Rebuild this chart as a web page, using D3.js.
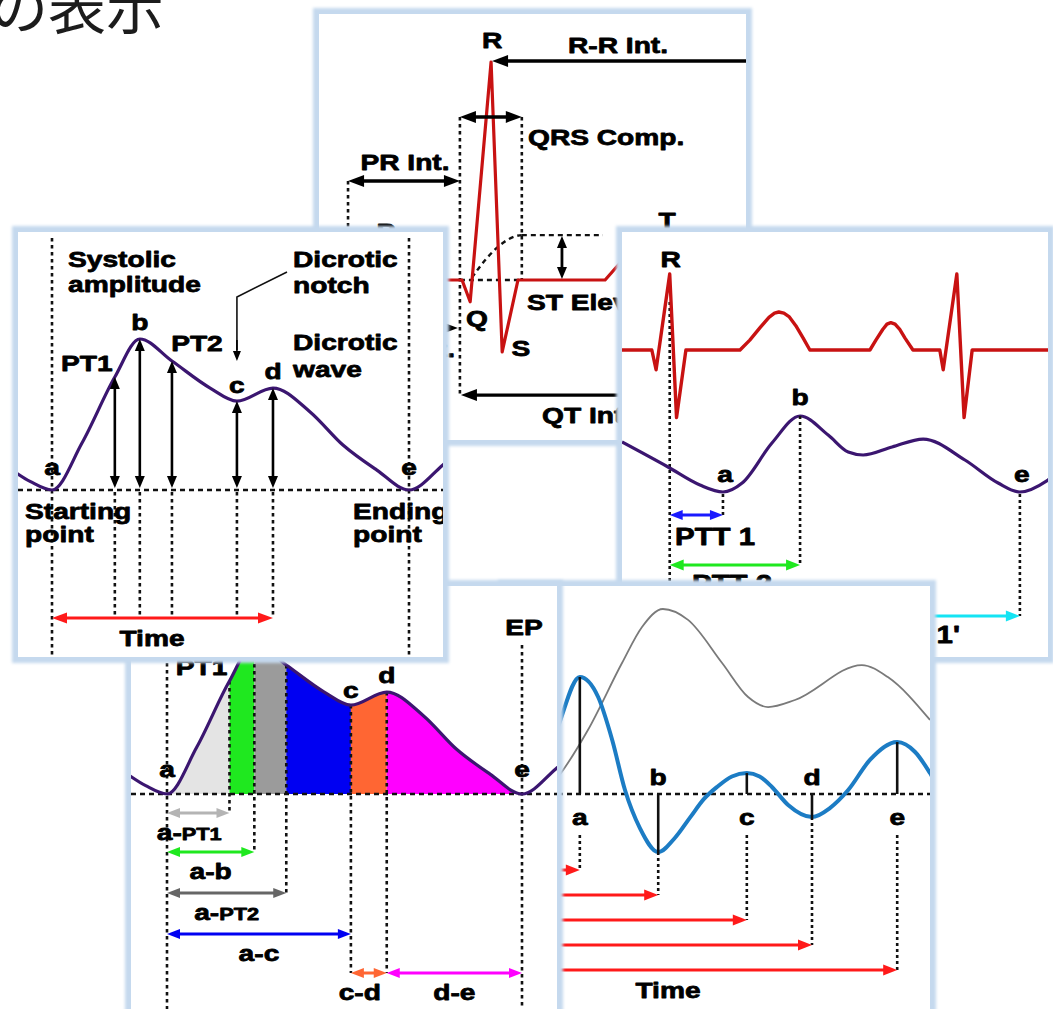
<!DOCTYPE html>
<html>
<head>
<meta charset="utf-8">
<script src="https://cdn.jsdelivr.net/npm/d3@7"></script>
<style>
  body { margin: 0; background: #fff; }
  svg { display: block; }
</style>
</head>
<body>
<script>
// ---------------- data ----------------
// ECG overview trace (time in ms, amplitude in mV)
const ecgTopTime = [0, 91, 119, 159, 199, 237, 335, 354, 403, 429, 466, 670, 705, 752, 799, 845, 892, 927, 1000];
const ecgTopAmp  = [0, 0, 0.05, 0.10, 0.05, 0, 0, -0.10, 1.0, -0.33, 0, 0, 0.078, 0.19, 0.22, 0.19, 0.08, 0, 0];
// ECG interval landmarks (ms)
const ecgLandmarkNames = ['prStart', 'qrsStart', 'qrsEnd', 'stMark', 'stEnd', 'rPeak'];
const ecgLandmarkTime  = [68, 330, 475, 569, 665, 403];

// ECG + PPG for pulse transit time (ms / mV / normalised PPG)
const ecgPttTime = [0, 70, 80, 112, 128, 150,
  277, 300, 325, 345, 358, 368, 380, 392, 408, 425, 441,
  582, 596, 612, 622, 631, 641, 652, 664, 683,
  746, 754, 786, 803, 822, 1000];
const ecgPttAmp  = [0, 0, -0.26, 1.0, -0.89, 0,
  0, 0.13, 0.30, 0.43, 0.485, 0.5, 0.485, 0.44, 0.32, 0.16, 0,
  0, 0.13, 0.27, 0.34, 0.36, 0.34, 0.27, 0.16, 0,
  0, -0.26, 1.0, -0.89, 0, 0];
const pttPpgTime = [0, 108, 183, 237, 282, 352, 418, 484, 531, 566, 634, 707, 805, 883, 934, 1000, 1030];
const pttPpgAmp  = [0.658, 0.329, 0.092, 0, 0.118, 0.645, 1.0, 0.75, 0.526, 0.487, 0.592, 0.697, 0.421, 0.118, 0, 0.158, 0.29];
const pttMarkNames = ['R', 'a', 'b', 'e'];
const pttMarkTime  = [112, 237, 418, 934];

// single PPG pulse, time normalised a -> e, amplitude normalised to systolic peak
const ppgTime = [-0.12, -0.06, 0, 0.084, 0.176, 0.246, 0.336, 0.443, 0.518, 0.619, 0.723, 0.815, 0.91, 1.0, 1.095, 1.14];
const ppgAmp  = [0.145, 0.055, 0, 0.311, 0.748, 1.0, 0.854, 0.675, 0.589, 0.675, 0.517, 0.298, 0.132, 0, 0.166, 0.26];
const featureNames = ['PT1', 'b', 'PT2', 'c', 'd'];
const featureTime  = [0.176, 0.246, 0.336, 0.518, 0.619];

// area segments under the pulse
const segBounds = [0, 0.176, 0.246, 0.336, 0.518, 0.619, 1.0];
const segColors = ['#e4e4e4', '#1fe81f', '#9b9b9b', '#0000f2', '#ff6633', '#ff00ff'];
const spanNames = ['a-PT1', 'a-b', 'a-PT2', 'a-c', 'c-d', 'd-e'];
const spanFrom  = [0, 0, 0, 0, 0.518, 0.619];
const spanTo    = [0.176, 0.246, 0.336, 0.518, 0.619, 1.0];
const spanColors = ['#b4b4b4', '#1fe81f', '#666666', '#0000f2', '#ff6633', '#ff00ff'];

// pulse (grey) and its derivative (blue), time in ms
const rawTime = [0, 80, 127, 197, 277, 324, 373, 432, 512, 573, 620, 683, 840, 901, 1000];
const rawAmp  = [0.02, -0.032, 0.092, 0.346, 0.708, 0.903, 1.0, 0.941, 0.708, 0.524, 0.470, 0.508, 0.697, 0.632, 0.400];
const derivTime = [0, 61, 96, 124, 178, 221, 254, 284, 319, 362, 401, 437, 470, 500, 535, 570, 600, 629, 667, 723, 765, 808, 859, 923, 965, 1000, 1023];
const derivAmp  = [-0.18, -0.05, 0.29, 0.547, 1.0, 0.829, 0.462, 0.034, -0.291, -0.496, -0.376, -0.2, -0.04, 0.06, 0.15, 0.179, 0.15, 0.06, -0.094, -0.197, -0.120, 0.034, 0.291, 0.444, 0.359, 0.179, 0.034];
const derivNames = ['a', 'b', 'c', 'd', 'e'];
const derivTimeMarks = [178, 362, 570, 723, 923];

// ---------------- layout ----------------
const W = 1053, H = 1009;
const panelBoxes = {
  ecg:   { x: 319, y: 14,  w: 427, h: 426 },
  ptt:   { x: 622, y: 232, w: 426, h: 425 },
  deriv: { x: 504, y: 586, w: 426, h: 425 },
  area:  { x: 131, y: 586, w: 426, h: 425 },
  feat:  { x: 18,  y: 232, w: 425, h: 425 }
};

const xTop = d3.scaleLinear().domain([0, 1000]).range([319, 746]);
const yTop = d3.scaleLinear().domain([0, 1]).range([280, 62]);
const xPtt = d3.scaleLinear().domain([0, 1000]).range([622, 1048]);
const yPttEcg = d3.scaleLinear().domain([0, 1]).range([350, 274]);
const yPttPpg = d3.scaleLinear().domain([0, 1]).range([492, 416]);
const xFeat = d3.scaleLinear().domain([0, 1]).range([52, 409]);
const yFeat = d3.scaleLinear().domain([0, 1]).range([490, 339]);
const xArea = d3.scaleLinear().domain([0, 1]).range([167, 522]);
const yArea = d3.scaleLinear().domain([0, 1]).range([794, 643]);
const xDer = d3.scaleLinear().domain([0, 1000]).range([504, 930]);
const yDer = d3.scaleLinear().domain([0, 1]).range([794, 677]);
const yRaw = d3.scaleLinear().domain([0, 1]).range([794, 609]);

const FONT = '"Liberation Sans", Arial, Helvetica, sans-serif';
const PURPLE = '#3b1670', RED_ECG = '#c81212', RED = '#ff1a1a';

const svg = d3.select('body').append('svg').attr('width', W).attr('height', H);
const defs = svg.append('defs');
defs.append('filter').attr('id', 'edge').attr('x', '-5%').attr('y', '-5%').attr('width', '110%').attr('height', '110%')
  .append('feGaussianBlur').attr('stdDeviation', 1.4);

// ---------------- helpers ----------------
function panel(key) {
  const b = panelBoxes[key];
  const g = svg.append('g').attr('class', 'panel-' + key);
  g.append('rect').attr('x', b.x - 6).attr('y', b.y - 6).attr('width', b.w + 12).attr('height', b.h + 12)
    .attr('fill', '#c5d9ee').attr('filter', 'url(#edge)');
  g.append('rect').attr('x', b.x).attr('y', b.y).attr('width', b.w).attr('height', b.h).attr('fill', '#fff');
  defs.append('clipPath').attr('id', 'clip-' + key).append('rect')
    .attr('x', b.x).attr('y', b.y).attr('width', b.w).attr('height', b.h);
  return g.append('g').attr('clip-path', `url(#clip-${key})`);
}

function label(g, x, y, txt, opt = {}) {
  const color = opt.color || '#000';
  const t = g.append('text')
    .attr('transform', `translate(${x},${y}) scale(${opt.sx || 1.28},1)`)
    .attr('text-anchor', opt.anchor || 'middle')
    .attr('font-family', FONT).attr('font-weight', 'bold')
    .attr('font-size', opt.size || 22)
    .attr('fill', color).attr('stroke', color).attr('stroke-width', 0.75)
    .attr('stroke-linejoin', 'round');
  if (Array.isArray(txt)) txt.forEach(([s, size]) => t.append('tspan').attr('font-size', size).text(s));
  else t.text(txt);
  return t;
}

function dots(g, x1, y1, x2, y2, dash = '3.5,3.5', w = 2.6) {
  g.append('line').attr('x1', x1).attr('y1', y1).attr('x2', x2).attr('y2', y2)
    .attr('stroke', '#111').attr('stroke-width', w).attr('stroke-dasharray', dash);
}

function arrow(g, x1, y1, x2, y2, o = {}) {
  const color = o.color || '#000', w = o.width || 3, hl = o.head || 14, hw = o.headW || 11;
  const dx = x2 - x1, dy = y2 - y1, L = Math.hypot(dx, dy) || 1, ux = dx / L, uy = dy / L;
  const a = o.start ? hl * 0.7 : 0, b = o.end ? hl * 0.7 : 0;
  g.append('line').attr('x1', x1 + ux * a).attr('y1', y1 + uy * a)
    .attr('x2', x2 - ux * b).attr('y2', y2 - uy * b)
    .attr('stroke', color).attr('stroke-width', w);
  const head = (tx, ty, vx, vy) => {
    const bx = tx - vx * hl, by = ty - vy * hl, px = -vy * hw / 2, py = vx * hw / 2;
    g.append('path').attr('d', `M${tx},${ty}L${bx + px},${by + py}L${bx - px},${by - py}Z`).attr('fill', color);
  };
  if (o.end) head(x2, y2, ux, uy);
  if (o.start) head(x1, y1, -ux, -uy);
}

const zip = (a, b) => a.map((v, i) => [v, b[i]]);

// ---------------- heading ----------------
svg.append('text').attr('x', -10).attr('y', 29)
  .attr('font-family', '"Noto Sans CJK JP", sans-serif').attr('font-size', 58).attr('fill', '#1c1c1c')
  .text('の表示');

// ---------------- ECG intervals ----------------
{
  const g = panel('ecg');
  const lm = Object.fromEntries(ecgLandmarkNames.map((n, i) => [n, ecgLandmarkTime[i]]));
  const rowQRS = 0.748, rowPR = 0.454, rowST = 0.206, rowSeg = -0.22, rowQT = -0.528;

  dots(g, xTop(lm.prStart), yTop(rowPR), xTop(lm.prStart), 440);
  dots(g, xTop(lm.qrsStart), yTop(rowQRS), xTop(lm.qrsStart), yTop(rowQT));
  dots(g, xTop(lm.qrsEnd), yTop(rowQRS), xTop(lm.qrsEnd), yTop(0));
  dots(g, xTop(lm.qrsStart), yTop(0), xTop(lm.qrsEnd), yTop(0), '5,4', 2.4);
  g.append('path')
    .attr('d', `M${xTop(358)},${yTop(0.01)}Q${xTop(424)},${yTop(0.2)} ${xTop(lm.qrsEnd)},${yTop(rowST)}`)
    .attr('fill', 'none').attr('stroke', '#111').attr('stroke-width', 2.4).attr('stroke-dasharray', '5,4');
  dots(g, xTop(lm.qrsEnd), yTop(rowST), xTop(lm.stEnd), yTop(rowST), '5,4', 2.4);

  g.append('path').datum(zip(ecgTopTime, ecgTopAmp))
    .attr('d', d3.line().x(d => xTop(d[0])).y(d => yTop(d[1])))
    .attr('fill', 'none').attr('stroke', RED_ECG).attr('stroke-width', 3.2).attr('stroke-linejoin', 'round');

  const ah = { head: 16, headW: 12, width: 3.4 };
  arrow(g, xTop(lm.rPeak) + 1, yTop(1) - 1, 760, yTop(1) - 1, { ...ah, start: true });
  arrow(g, xTop(lm.qrsStart), yTop(rowQRS), xTop(lm.qrsEnd), yTop(rowQRS), { ...ah, start: true, end: true });
  arrow(g, xTop(lm.prStart), yTop(rowPR), xTop(lm.qrsStart), yTop(rowPR), { ...ah, start: true, end: true });
  arrow(g, xTop(lm.stMark), yTop(rowST) + 1, xTop(lm.stMark), yTop(0) - 1, { head: 12, headW: 10, width: 2.8, start: true, end: true });
  arrow(g, xTop(95), yTop(rowSeg), xTop(lm.qrsStart) - 2, yTop(rowSeg), { ...ah, start: true, end: true });
  arrow(g, xTop(lm.qrsStart) + 1, yTop(rowQT), 760, yTop(rowQT), { ...ah, start: true });

  label(g, xTop(lm.rPeak) + 1, 48, 'R');
  label(g, 618, 53, 'R-R Int.');
  label(g, 528, 145, 'QRS Comp.', { anchor: 'start' });
  label(g, 405, 170, 'PR Int.');
  label(g, 386, 239, 'P');
  label(g, 667, 228, 'T');
  label(g, 477, 326, 'Q');
  label(g, 521, 356, 'S');
  label(g, 527, 310, 'ST Elevation', { anchor: 'start' });
  label(g, 455, 357, 'Int.', { anchor: 'end' });
  label(g, 542, 423, 'QT Int.', { anchor: 'start' });
}

// ---------------- pulse transit time ----------------
{
  const g = panel('ptt');
  const m = Object.fromEntries(pttMarkNames.map((n, i) => [n, pttMarkTime[i]]));
  const rows = [515, 565, 616];

  dots(g, xPtt(m.R), yPttEcg(0.63), xPtt(m.R), 660, '3,3', 2.6);
  g.append('path').datum(zip(ecgPttTime, ecgPttAmp))
    .attr('d', d3.line().x(d => xPtt(d[0])).y(d => yPttEcg(d[1])))
    .attr('fill', 'none').attr('stroke', RED_ECG).attr('stroke-width', 3.4).attr('stroke-linejoin', 'round');
  g.append('path').datum(zip(pttPpgTime, pttPpgAmp))
    .attr('d', d3.line().curve(d3.curveMonotoneX).x(d => xPtt(d[0])).y(d => yPttPpg(d[1])))
    .attr('fill', 'none').attr('stroke', PURPLE).attr('stroke-width', 3.2);

  dots(g, xPtt(m.a), yPttPpg(0) + 2, xPtt(m.a), rows[0], '3,3', 2.6);
  dots(g, xPtt(m.b), yPttPpg(1), xPtt(m.b), rows[1], '3,3', 2.6);
  dots(g, xPtt(m.e), yPttPpg(0) + 2, xPtt(m.e), rows[2], '3,3', 2.6);

  arrow(g, xPtt(m.R), rows[0], xPtt(m.a), rows[0], { color: '#1a1aff', width: 3, head: 13, headW: 10, start: true, end: true });
  arrow(g, xPtt(m.R), rows[1], xPtt(m.b), rows[1], { color: '#1fe81f', width: 3, head: 14, headW: 11, start: true, end: true });
  arrow(g, xPtt(m.R), rows[2], xPtt(m.e), rows[2], { color: '#14e4f4', width: 3, head: 14, headW: 11, end: true });

  label(g, xPtt(m.R) + 1, 267, 'R');
  label(g, xPtt(m.a) + 2, 482, 'a');
  label(g, xPtt(m.b), 405, 'b');
  label(g, xPtt(m.e) + 2, 482, 'e');
  label(g, 675, 545, 'PTT 1', { anchor: 'start', size: 23 });
  label(g, 692, 592, 'PTT 2', { anchor: 'start', size: 23 });
  label(g, 960, 643, "PTT 1'", { anchor: 'end', size: 23 });
}

// ---------------- pulse and first derivative ----------------
{
  const g = panel('deriv');
  const rows = [870, 895, 920, 945, 970];
  g.append('path').datum(zip(rawTime, rawAmp))
    .attr('d', d3.line().curve(d3.curveMonotoneX).x(d => xDer(d[0])).y(d => yRaw(d[1])))
    .attr('fill', 'none').attr('stroke', '#7a7a7a').attr('stroke-width', 1.8);
  dots(g, 504, yDer(0), 930, yDer(0), '5,4', 2.6);
  const derivPts = zip(derivTime, derivAmp);
  g.append('path').datum(derivPts)
    .attr('d', d3.line().curve(d3.curveMonotoneX).x(d => xDer(d[0])).y(d => yDer(d[1])))
    .attr('fill', 'none').attr('stroke', '#1c7cc4').attr('stroke-width', 4);

  derivNames.forEach((n, i) => {
    const t = derivTimeMarks[i];
    const v = derivAmp[derivTime.indexOf(t)];
    const x = xDer(t);
    g.append('line').attr('x1', x).attr('x2', x).attr('y1', yDer(0)).attr('y2', yDer(v))
      .attr('stroke', '#111').attr('stroke-width', 2.6);
    const above = v < 0;
    label(g, x, above ? 785 : 825, n);
    dots(g, x, above ? yDer(v) : 835, x, rows[i], '3,3', 2.6);
    arrow(g, xDer(20), rows[i], x, rows[i], { color: RED, width: 3, head: 14, headW: 11, end: true });
  });
  label(g, 668, 998, 'Time');
}

// ---------------- area segments ----------------
{
  const g = panel('area');
  const pts = zip(ppgTime, ppgAmp);
  const ampAt = t => ppgAmp[ppgTime.indexOf(t)];
  const areaGen = d3.area().curve(d3.curveMonotoneX)
    .x(d => xArea(d[0])).y0(yArea(0)).y1(d => yArea(d[1]));
  segColors.forEach((c, i) => {
    const id = 'seg-' + i;
    defs.append('clipPath').attr('id', id).append('rect')
      .attr('x', xArea(segBounds[i])).attr('y', 586)
      .attr('width', xArea(segBounds[i + 1]) - xArea(segBounds[i])).attr('height', 425);
    g.append('path').datum(pts).attr('d', areaGen).attr('fill', c).attr('clip-path', `url(#${id})`);
  });

  const spanRows = [813, 852, 893, 934, 973, 973];
  dots(g, xArea(0), 586, xArea(0), 1011);
  dots(g, xArea(1), 645, xArea(1), 1011);
  const boundaryRows = [813, 852, 893, 973, 973];
  segBounds.slice(1, 6).forEach((t, i) => dots(g, xArea(t), yArea(ampAt(t)), xArea(t), boundaryRows[i]));
  dots(g, 131, yArea(0), 557, yArea(0), '5,4', 2.6);
  g.append('path').datum(pts)
    .attr('d', d3.line().curve(d3.curveMonotoneX).x(d => xArea(d[0])).y(d => yArea(d[1])))
    .attr('fill', 'none').attr('stroke', PURPLE).attr('stroke-width', 3.2);

  const labelDx = [-9, 0, 0, 0, -9, 0];
  spanNames.forEach((n, i) => {
    const x1 = xArea(spanFrom[i]), x2 = xArea(spanTo[i]);
    arrow(g, x1, spanRows[i], x2, spanRows[i], { color: spanColors[i], width: 3, head: 13, headW: 10, start: true, end: true });
    const parts = n.includes('PT') ? [['a-', 22], [n.slice(2), 17]] : n;
    label(g, (x1 + x2) / 2 + labelDx[i], spanRows[i] + 27, parts);
  });

  const fdx = [-28, 0, 25, 0, 0], fdy = [-6, -9, -10, -7, -9];
  featureNames.forEach((n, i) => {
    const t = featureTime[i];
    label(g, xArea(t) + fdx[i], yArea(ampAt(t)) + fdy[i], n);
  });
  label(g, xArea(0), 777, 'a');
  label(g, xArea(1), 777, 'e');
  label(g, xArea(1) + 2, 635, 'EP');
}

// ---------------- PPG features ----------------
{
  const g = panel('feat');
  const pts = zip(ppgTime, ppgAmp);
  const ampAt = t => ppgAmp[ppgTime.indexOf(t)];
  const timeRow = 618;

  dots(g, xFeat(0), 238, xFeat(0), 660);
  dots(g, xFeat(1), 238, xFeat(1), 660);
  dots(g, 18, yFeat(0), 443, yFeat(0), '5,4', 2.6);
  g.append('path').datum(pts)
    .attr('d', d3.line().curve(d3.curveMonotoneX).x(d => xFeat(d[0])).y(d => yFeat(d[1])))
    .attr('fill', 'none').attr('stroke', PURPLE).attr('stroke-width', 3.2);

  const fdx = [-28, 0, 25, 0, 0], fdy = [-6, -9, -10, -8, -9];
  featureNames.forEach((n, i) => {
    const t = featureTime[i], x = xFeat(t);
    arrow(g, x, yFeat(0) - 2, x, yFeat(ampAt(t)), { width: 2.6, head: 12, headW: 10, start: true, end: true });
    dots(g, x, yFeat(0) + 2, x, timeRow);
    label(g, x + fdx[i], yFeat(ampAt(t)) + fdy[i], n);
  });
  arrow(g, xFeat(0), timeRow, xFeat(featureTime[4]), timeRow, { color: RED, width: 3, head: 15, headW: 11, start: true, end: true });

  // pointer to the dicrotic notch
  const cx = xFeat(featureTime[3]);
  g.append('path').attr('d', `M287,272L${cx},297L${cx},350`)
    .attr('fill', 'none').attr('stroke', '#111').attr('stroke-width', 1.6);
  arrow(g, cx, 340, cx, 361, { width: 1.6, head: 10, headW: 8, end: true });

  label(g, xFeat(0), 475, 'a');
  label(g, xFeat(1), 475, 'e');
  label(g, 68, 267, 'Systolic', { anchor: 'start' });
  label(g, 68, 292, 'amplitude', { anchor: 'start' });
  label(g, 293, 267, 'Dicrotic', { anchor: 'start' });
  label(g, 293, 293, 'notch', { anchor: 'start' });
  label(g, 293, 350, 'Dicrotic', { anchor: 'start' });
  label(g, 293, 377, 'wave', { anchor: 'start' });
  label(g, 25, 519, 'Starting', { anchor: 'start' });
  label(g, 25, 542, 'point', { anchor: 'start' });
  label(g, 353, 519, 'Ending', { anchor: 'start' });
  label(g, 353, 542, 'point', { anchor: 'start' });
  label(g, 152, 646, 'Time');
}
</script>
</body>
</html>
